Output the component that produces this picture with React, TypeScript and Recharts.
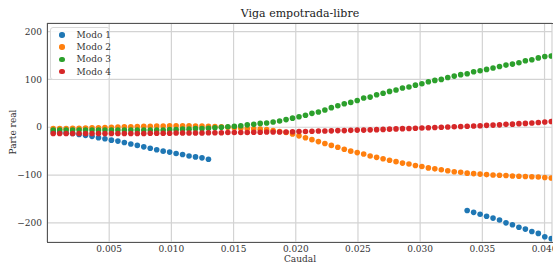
import React from 'react';
import { ScatterChart, Scatter, XAxis, YAxis, CartesianGrid } from 'recharts';

// caudal values (shared x for all modes)
const caudal = [
  0.0005, 0.00102, 0.00154, 0.00206, 0.00258, 0.0031, 0.00362, 0.00414, 0.00466, 0.00518,
  0.0057, 0.00622, 0.00674, 0.00726, 0.00778, 0.0083, 0.00882, 0.00934, 0.00986, 0.01038,
  0.0109, 0.01142, 0.01194, 0.01246, 0.01298, 0.0135, 0.01402, 0.01454, 0.01506, 0.01558,
  0.0161, 0.01662, 0.01714, 0.01766, 0.01818, 0.0187, 0.01922, 0.01974, 0.02026, 0.02078,
  0.0213, 0.02182, 0.02234, 0.02286, 0.02338, 0.0239, 0.02442, 0.02494, 0.02546, 0.02598,
  0.0265, 0.02702, 0.02754, 0.02806, 0.02858, 0.0291, 0.02962, 0.03014, 0.03066, 0.03118,
  0.0317, 0.03222, 0.03274, 0.03326, 0.03378, 0.0343, 0.03482, 0.03534, 0.03586, 0.03638,
  0.0369, 0.03742, 0.03794, 0.03846, 0.03898, 0.0395, 0.04002, 0.04054,
];

const modo1 = [
  -10, -11, -12, -13, -15, -17, -19, -22, -24, -27,
  -29, -32, -35, -38, -41, -44, -47, -50, -52, -55,
  -57, -60, -62, -64, -67, null, null, null, null, null,
  null, null, null, null, null, null, null, null, null, null,
  null, null, null, null, null, null, null, null, null, null,
  null, null, null, null, null, null, null, null, null, null,
  null, null, null, null, -174, -178, -182, -186, -190, -194,
  -200, -204, -209, -213, -218, -222, -229, -233,
];

const modo2 = [
  -3, -3, -2.5, -2, -2, -1.5, -1, -1, -0.5, 0,
  0.5, 1, 1, 1.5, 2, 2, 2.5, 2.5, 3, 3,
  3, 3, 2.5, 2.5, 2, 1.5, 1, 0, -1, -2,
  -3, -3.5, -4, -5, -7, -9, -11, -14, -18, -22,
  -26, -30, -34, -38, -42, -46, -50, -53, -56, -60,
  -63, -66, -69, -72, -75, -77, -80, -82, -85, -87,
  -89, -91, -93, -94, -96, -97, -98, -99, -100, -100.5,
  -101, -102, -102.5, -103, -103.5, -104, -105, -106,
];

const modo3 = [
  -6, -6, -6, -6, -6, -6, -6, -6, -6, -6,
  -6, -6, -6, -6, -6, -6, -6, -6, -5, -5,
  -4, -4, -3, -3, -2, -1, 0, 1, 2, 3,
  5, 6, 8, 9, 11, 13, 16, 19, 22, 25,
  29, 32, 36, 41, 45, 49, 52, 56, 61, 63,
  68, 71, 75, 78, 82, 84, 88, 91, 95, 98,
  100, 104, 107, 110, 112, 116, 118, 121, 124, 127,
  130, 132, 135, 139, 141, 145, 148, 149,
];

const modo4 = [
  -13, -13, -13, -13, -13, -13, -13, -13, -13, -13,
  -13, -13, -13, -13, -13, -12.5, -12.5, -12.5, -12.5, -12,
  -12, -12, -12, -12, -11.5, -11.5, -11.5, -11, -11, -11,
  -11, -10.5, -10.5, -10, -10, -10, -10, -9.5, -9, -9,
  -8.5, -8, -8, -7.5, -7, -7, -6.5, -6, -6, -5.5,
  -5, -4.5, -4, -3.5, -3, -2.5, -2, -1.5, -1, -0.5,
  0, 0.5, 1, 1.5, 2, 2.5, 3, 4, 4.5, 5,
  6, 6.5, 7.5, 8, 9, 10, 11, 12,
];

const seriesNames = ['Modo 1', 'Modo 2', 'Modo 3', 'Modo 4'];
const seriesValues = [modo1, modo2, modo3, modo4];
const COLORS = ['#1f77b4', '#ff7f0e', '#2ca02c', '#d62728'];

const xTicks = [0.005, 0.01, 0.015, 0.02, 0.025, 0.03, 0.035, 0.04];
const yTicks = [-200, -100, 0, 100, 200];

const FONT = '"DejaVu Serif", "Liberation Serif", serif';

const toPoints = (vals: (number | null)[]) =>
  caudal
    .map((x, i) => ({ x, y: vals[i] }))
    .filter((p) => p.y !== null);

const dot = (color: string) => (props: any) => (
  <circle cx={props.cx} cy={props.cy} r={2.8} fill={color} />
);

const App: React.FC = () => {
  return (
    <div style={{ position: 'relative', width: 553, height: 265, fontFamily: FONT }}>
      <style>{`body { margin: 0; }`}</style>
      <ScatterChart width={553} height={265} margin={{ top: 23, right: 1, bottom: 0, left: 0 }}>
        <CartesianGrid stroke="#d3d3d3" strokeWidth={1.2} />
        <XAxis
          type="number"
          dataKey="x"
          domain={[0, 0.0406]}
          ticks={xTicks}
          interval={0}
          allowDataOverflow
          height={23}
          axisLine={false}
          tickLine={false}
          tickSize={3}
          tickMargin={1}
          tickFormatter={(v: number) => v.toFixed(3)}
          tick={{ fontFamily: FONT, fontSize: 9, fill: '#333' }}
        />
        <YAxis
          type="number"
          dataKey="y"
          domain={[-240, 218]}
          ticks={yTicks}
          interval={0}
          allowDataOverflow
          width={47}
          axisLine={false}
          tickLine={false}
          tickSize={3}
          tickMargin={2}
          tickFormatter={(v: number) => String(v).replace('-', '\u2212')}
          tick={{ fontFamily: FONT, fontSize: 9, fill: '#333' }}
        />
        {seriesNames.map((name, i) => (
          <Scatter
            key={name}
            name={name}
            data={toPoints(seriesValues[i])}
            fill={COLORS[i]}
            shape={dot(COLORS[i])}
            isAnimationActive={false}
          />
        ))}
      </ScatterChart>

      {/* plot frame */}
      <div
        style={{
          position: 'absolute', left: 47, top: 23, width: 505, height: 218,
          border: '1px solid #555', pointerEvents: 'none',
        }}
      />

      {/* title */}
      <div
        style={{
          position: 'absolute', left: 47, width: 506, top: 7, textAlign: 'center',
          fontSize: 11, color: '#222', lineHeight: '14px',
        }}
      >
        Viga empotrada-libre
      </div>

      {/* x label */}
      <div
        style={{
          position: 'absolute', left: 47, width: 506, top: 254, textAlign: 'center',
          fontSize: 9, color: '#333', lineHeight: '11px',
        }}
      >
        Caudal
      </div>

      {/* y label */}
      <div
        style={{
          position: 'absolute', left: 13, top: 132, fontSize: 9, color: '#333',
          transform: 'translate(-50%, -50%) rotate(-90deg)', whiteSpace: 'nowrap',
          lineHeight: '11px',
        }}
      >
        Parte real
      </div>

      {/* legend */}
      <div
        style={{
          position: 'absolute', left: 50, top: 27, width: 60, padding: '1px 0',
          boxSizing: 'border-box',
          border: '1px solid #d8d8d8', borderRadius: 3, background: 'rgba(255,255,255,0.85)',
        }}
      >
        {seriesNames.map((name, i) => (
          <div
            key={name}
            style={{
              display: 'flex', alignItems: 'center', height: 12.2, fontSize: 9,
              color: '#333', whiteSpace: 'nowrap',
            }}
          >
            <span
              style={{
                display: 'inline-block', flex: 'none', width: 5.6, height: 5.6, borderRadius: '50%',
                background: COLORS[i], marginLeft: 8, marginRight: 12,
              }}
            />
            {name}
          </div>
        ))}
      </div>
    </div>
  );
};

export default App;
